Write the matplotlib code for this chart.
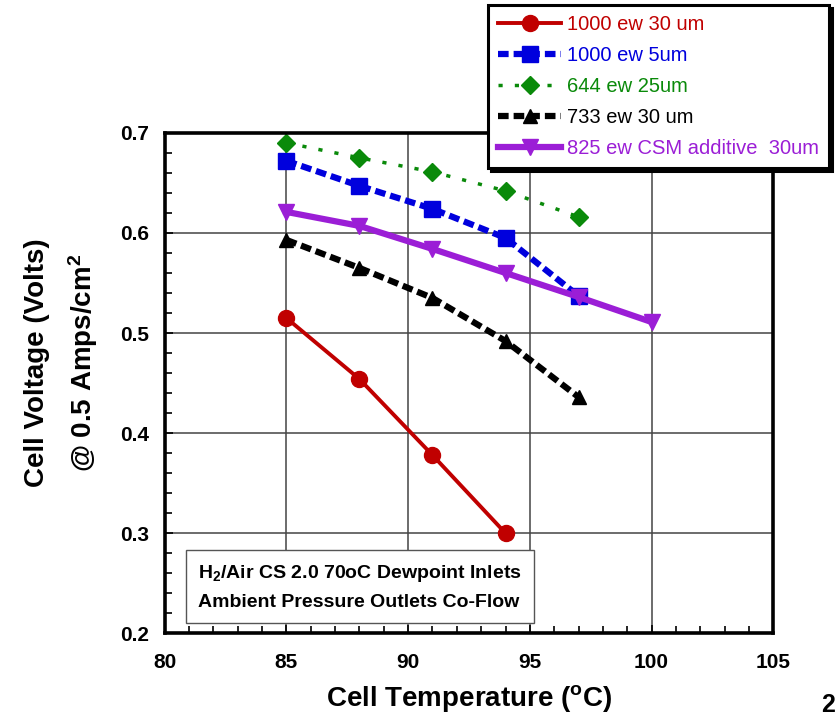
import matplotlib.pyplot as plt
from matplotlib.ticker import MultipleLocator

plt.rcParams['font.family'] = ['Liberation Sans', 'DejaVu Sans']
plt.rcParams['mathtext.fontset'] = 'custom'
plt.rcParams['mathtext.rm'] = 'Liberation Sans:bold'
plt.rcParams['mathtext.it'] = 'Liberation Sans:bold'
plt.rcParams['mathtext.bf'] = 'Liberation Sans:bold'

# data
temp_red = [85, 88, 91, 94]
volt_red = [0.515, 0.454, 0.378, 0.300]
temp_blue = [85, 88, 91, 94, 97]
volt_blue = [0.672, 0.647, 0.624, 0.595, 0.537]
temp_green = [85, 88, 91, 94, 97]
volt_green = [0.690, 0.675, 0.661, 0.642, 0.616]
temp_black = [85, 88, 91, 94, 97]
volt_black = [0.593, 0.565, 0.535, 0.492, 0.436]
temp_purple = [85, 88, 91, 94, 97, 100]
volt_purple = [0.621, 0.607, 0.584, 0.560, 0.536, 0.511]

fig = plt.figure(figsize=(8.36, 7.18), dpi=100)
ax = fig.add_axes([0.197, 0.118, 0.728, 0.697])

ax.plot(temp_red, volt_red, '-', color='#c00000', lw=2.8, marker='o', ms=11.5,
        label='1000 ew 30 um')
ax.plot(temp_blue, volt_blue, '--', color='#0000dd', lw=4.5, marker='s', ms=12,
        dashes=(1.7, 0.8), label='1000 ew 5um')
ax.plot(temp_green, volt_green, ':', color='#0a8a0a', lw=2.5, marker='D', ms=9,
        dashes=(1.2, 3.5), label='644 ew 25um')
ax.plot(temp_black, volt_black, '--', color='black', lw=4.5, marker='^', ms=10,
        dashes=(1.7, 0.8), label='733 ew 30 um')
ax.plot(temp_purple, volt_purple, '-', color='#9b1ed6', lw=4.5, marker='v', ms=11,
        label='825 ew CSM additive  30um')

ax.set_xlim(80, 105)
ax.set_ylim(0.2, 0.7)
ax.xaxis.set_major_locator(MultipleLocator(5))
ax.xaxis.set_minor_locator(MultipleLocator(1))
ax.yaxis.set_major_locator(MultipleLocator(0.1))
ax.yaxis.set_minor_locator(MultipleLocator(0.02))
ax.tick_params(which='both', direction='in', top=False, right=False)
ax.tick_params(which='major', length=6, width=1.2, labelsize=15)
ax.tick_params(axis='x', which='major', pad=14)
ax.tick_params(axis='y', which='major', pad=11)
ax.tick_params(which='minor', length=5, width=1.2)
for lab in ax.get_xticklabels() + ax.get_yticklabels():
    lab.set_fontweight('bold')
ax.grid(True, which='major', color='#444444', lw=1.1)
for s in ax.spines.values():
    s.set_linewidth(2.6)

ax.set_xlabel('Cell Temperature ($^{o}$C)', fontsize=20, fontweight='bold', labelpad=8)
ax.set_ylabel('Cell Voltage (Volts)\n@ 0.5 Amps/cm$^{2}$', fontsize=20,
              fontweight='bold', linespacing=1.6)
ax.yaxis.set_label_coords(-0.107, 0.54)

ax.text(0.055, 0.14, 'H$_{2}$/Air CS 2.0 70oC Dewpoint Inlets\nAmbient Pressure Outlets Co-Flow',
        transform=ax.transAxes, fontsize=14, fontweight='bold', va='top',
        linespacing=1.75,
        bbox=dict(boxstyle='square,pad=0.6', fc='white', ec='#555555', lw=1))

leg = fig.legend(loc='upper left', bbox_to_anchor=(0.584, 0.993), fontsize=14.5,
                 handlelength=3.1, handletextpad=0.3, labelspacing=0.6,
                 borderpad=0.5, borderaxespad=0, fancybox=False, framealpha=1,
                 edgecolor='black', shadow={'color': 'black', 'alpha': 1})
leg.get_frame().set_linewidth(2.2)
for txt, line in zip(leg.get_texts(), leg.get_lines()):
    txt.set_color(line.get_color())

fig.text(0.999, 0.002, '2', fontsize=18, fontweight='bold', ha='right', va='bottom')

fig.savefig('out.png', dpi=100)
